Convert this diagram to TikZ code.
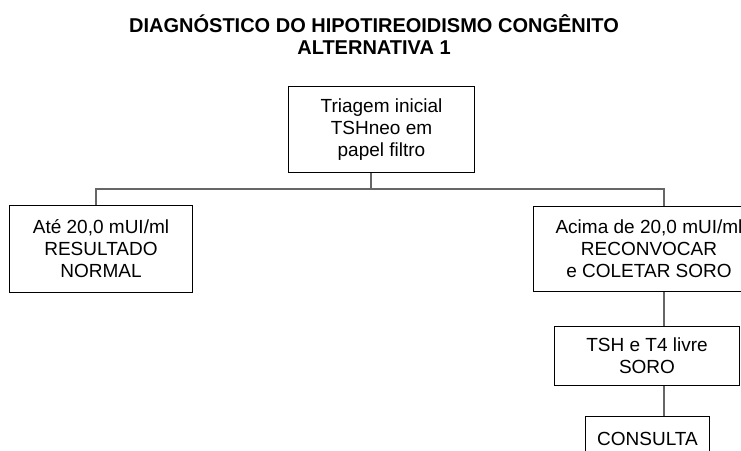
\documentclass[tikz,border=0pt]{standalone}
\usepackage{fontspec}
\setmainfont{Liberation Sans}
\usepackage{tikz}
\usetikzlibrary{positioning}
\tikzset{etapa/.style = {draw, line width = 1bp, inner sep = 0, align = center,
                         font = \fontsize{19bp}{22bp}\selectfont}}
\tikzset{ligacao/.style = {draw = black!60, line width = 1.4bp}}

\begin{document}
\begin{tikzpicture}[x = 1bp, y = -1bp]
      \clip (0, 0) rectangle (741, 451);
      \node [anchor = south, inner sep = 0, align = center, font = \fontsize{20bp}{22bp}\selectfont\bfseries] (titulo) at (374, 55) {DIAGNÓSTICO DO HIPOTIREOIDISMO CONGÊNITO\\ALTERNATIVA 1};
      \node [etapa, minimum width = 187, minimum height = 87] (triagem) at (381.5, 129.5) {Triagem inicial\\TSHneo em\\papel filtro};
      \node [etapa, minimum width = 184, minimum height = 88] (normal) at (101, 249) {Até 20,0 mUI/ml\\RESULTADO\\NORMAL};
      \node [etapa, minimum width = 232, minimum height = 86] (reconvocar) at (649, 249) {Acima de 20,0 mUI/ml\\RECONVOCAR\\e COLETAR SORO};
      \node [etapa, minimum width = 186, minimum height = 60] (soro) at (647, 356) {TSH e T4 livre\\SORO};
      \node [etapa, minimum width = 125, minimum height = 45] (consulta) at (647.5, 438.5) {CONSULTA};
      \coordinate (barra) at (371, 189);
      \coordinate (barraE) at (96, 189);
      \coordinate (barraD) at (664, 189);
      \draw [ligacao] (triagem.south -| barra) -- (barra);
      \draw [ligacao] (normal.north -| barraE) -- (barraE) -- (barraD) -- (reconvocar.north -| barraD);
      \draw [ligacao] (reconvocar.south -| barraD) -- (soro.north -| barraD);
      \draw [ligacao] (soro.south -| barraD) -- (consulta.north -| barraD);
    \end{tikzpicture}
\end{document}
